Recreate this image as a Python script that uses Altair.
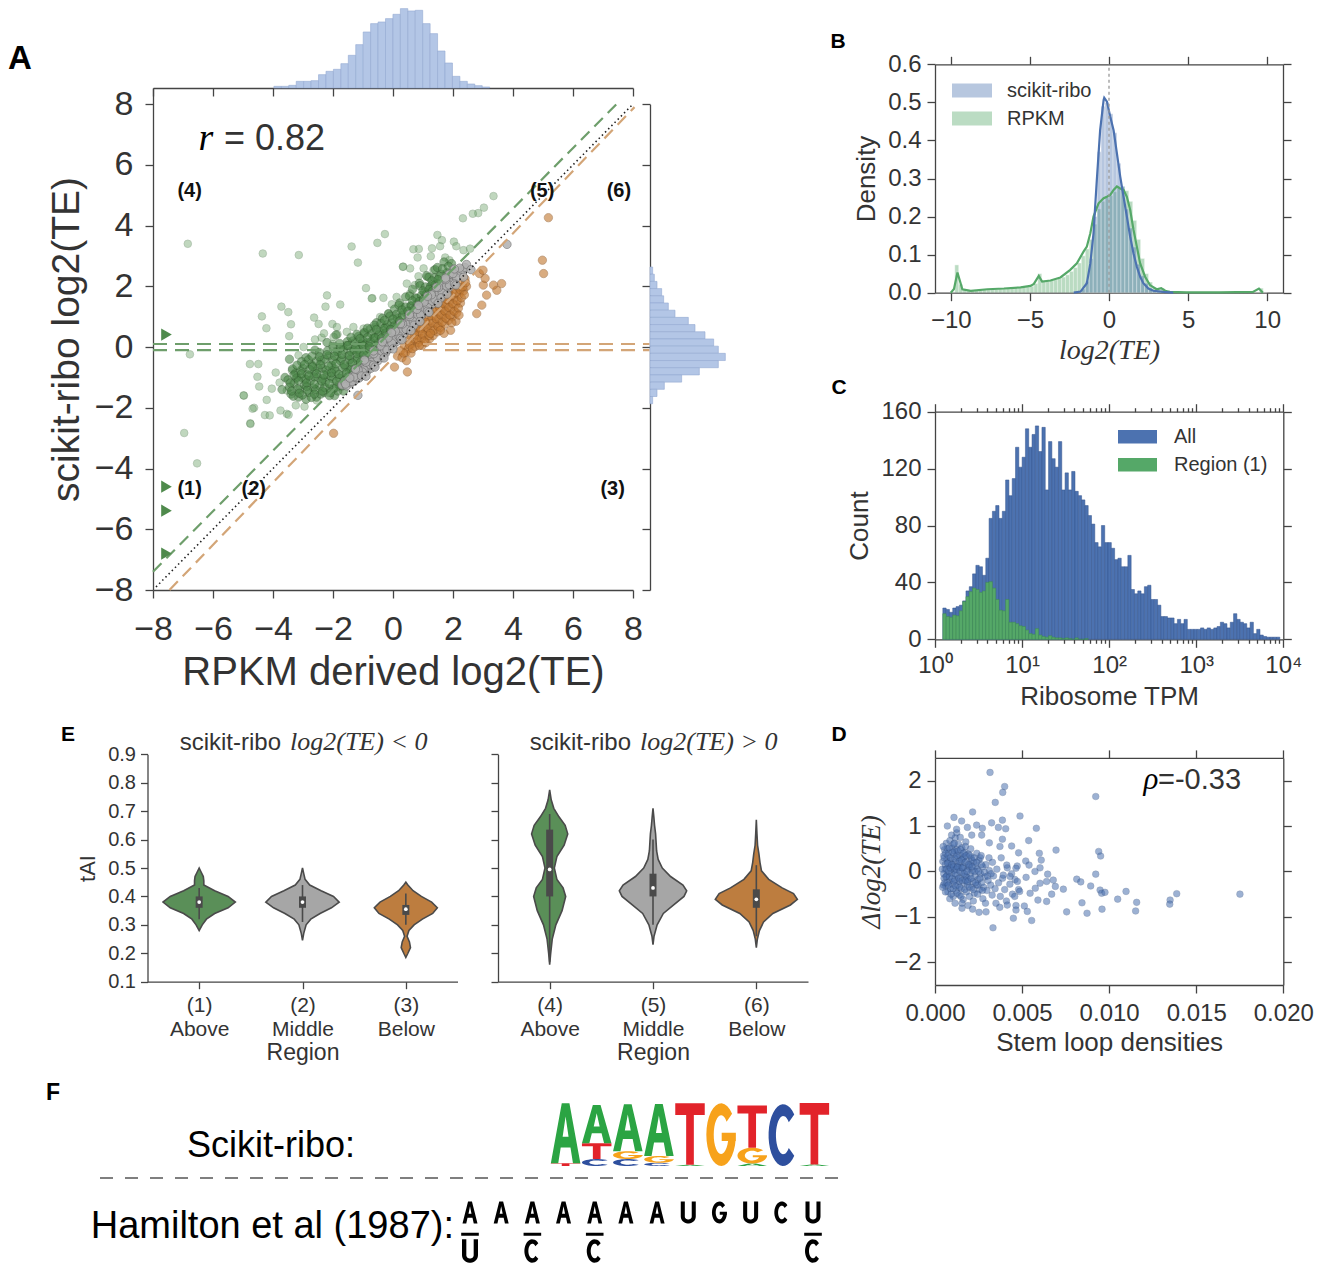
import altair as alt
import numpy as np
import pandas as pd

# ======================= DATA =======================
# ---- Panel A : marginal histograms (bar heights) ----
A_top_start, A_top_width = -3.97, 0.248
A_top_h = [5, 5, 8, 20, 20, 22, 40, 50, 56, 73, 98, 130, 168, 193, 198, 208, 221, 238, 231, 233,
           193, 163, 111, 75, 35, 20, 12, 7, 3]
A_right_top, A_right_width = 2.64, 0.237   # bins listed from the top downwards
A_right_h = [8, 13, 21, 35, 41, 55, 75, 115, 135, 165, 191, 205, 226, 205, 148, 95, 43, 21, 8]

# ---- Panel A : scatter (RPKM log2TE, scikit-ribo log2TE) ----
green_sparse = [(-6.84, 3.40), (-4.34, 3.08), (-3.14, 3.03), (-1.38, 3.31), (-1.17, 2.78), (-0.52, 3.43),
                (-0.27, 3.72), (0.34, 2.65), (-0.90, 1.94), (-0.69, 1.61), (-0.32, 1.62), (-2.20, 1.70),
                (-2.25, 1.33), (-1.76, 1.40), (-3.72, 1.33), (-3.49, 1.15), (-4.37, 1.01), (-4.22, 0.62),
                (-3.40, 0.75), (-3.46, 0.36), (-2.63, 0.97), (-2.48, 0.76), (-2.02, 0.76), (-2.38, 0.31),
                (-1.85, 0.42), (-6.77, -0.24), (-4.77, -0.56), (-4.49, -0.56), (-4.52, -0.98), (-4.46, -1.30),
                (-4.97, -1.60), (-4.63, -2.0), (-4.76, -2.51), (-4.21, -1.74), (-3.91, -0.84), (-3.78, -1.17),
                (-4.04, -1.37), (-4.27, -2.24), (-3.75, -2.09), (-3.54, -2.20), (-3.24, -1.92), (-2.95, -1.96),
                (-3.54, -1.43), (-3.37, -0.77), (-2.98, 0.0), (-3.15, -0.27), (-2.76, -0.55), (-2.54, -1.76),
                (-3.2, -0.99), (3.35, 4.97), (3.03, 4.59), (2.84, 4.41), (2.66, 4.39), (2.33, 4.24),
                (1.48, 3.69), (1.63, 3.52), (1.57, 3.32), (2.03, 3.47), (2.11, 3.32), (2.35, 3.19),
                (2.57, 3.24), (1.30, 3.25), (0.86, 3.23), (0.68, 3.22), (0.82, 2.95), (1.26, 2.99),
                (1.74, 2.95), (1.88, 2.86), (0.33, 2.64), (0.57, 2.59), (1.02, 2.59), (1.35, 2.53),
                (0.85, 2.33), (1.13, 2.31), (0.46, 2.09), (-0.71, 1.60), (-0.04, 1.41), (0.12, 1.65),
                (0.29, 1.32), (0.57, 1.76), (0.73, 2.04), (-0.43, 0.99), (-0.15, 1.10), (0.12, 0.99),
                (-0.59, 0.66), (-0.98, 0.61), (-1.32, 0.66), (-1.54, 0.50), (-1.87, 0.66), (-1.98, 0.33),
                (-0.64, 0.33), (-0.32, 0.55), (-1.04, 0.11), (-1.65, 0.0), (-1.32, -0.11), (-1.87, -0.33),
                (-2.04, -0.77), (-6.96, -2.83), (-6.53, -3.83), (-4.98, -1.59), (-4.75, -2.53),
                (-4.68, -2.03), (-4.11, -2.25), (-3.48, -2.23), (-2.6, 0.25), (-2.3, 0.45), (-2.0, 0.10)]
green_dense = [(-3.40, -1.55), (-3.30, -1.20), (-3.25, -0.85), (-3.15, -1.65), (-3.10, -1.40), (-3.05, -1.00),
               (-3.00, -0.70), (-2.95, -1.25), (-2.90, -1.72), (-2.85, -0.90), (-2.80, -1.50), (-2.75, -1.10),
               (-2.70, -0.60), (-2.65, -1.35), (-2.60, -0.80), (-2.55, -1.65), (-2.50, -1.00), (-2.45, -1.28),
               (-2.40, -0.45), (-2.35, -0.70), (-2.30, -1.50), (-2.25, -1.15), (-2.20, -0.90), (-2.15, -0.30),
               (-2.10, -1.38), (-2.05, -0.60), (-2.00, -1.05), (-1.95, -1.60), (-1.90, -0.80), (-1.85, -0.15),
               (-1.80, -1.25), (-1.75, -0.45), (-1.70, -0.95), (-1.65, -1.45), (-1.60, -0.65), (-1.55, 0.05),
               (-1.50, -0.30), (-1.45, -0.82), (-1.40, -0.55), (-1.35, 0.20), (-1.30, -0.10), (-1.25, -0.70),
               (-1.20, -0.40), (-1.15, 0.35), (-1.10, -0.18), (-1.05, 0.10), (-1.00, -0.55), (-0.95, 0.45),
               (-0.90, -0.28), (-0.85, 0.15), (-0.80, -0.05), (-0.75, 0.60), (-0.70, -0.30), (-0.65, 0.30),
               (-0.60, 0.05), (-0.55, 0.80), (-0.50, -0.10), (-0.45, 0.50), (-0.40, 0.20), (-0.35, 0.95),
               (-0.30, 0.05), (-0.25, 0.65), (-0.20, 0.35), (-0.15, 1.10), (-0.10, 0.25), (-0.05, 0.80),
               (0.00, 0.50), (0.05, 1.25), (0.10, 0.65), (0.15, 0.95), (0.22, 1.45), (0.28, 0.80),
               (0.35, 1.15), (0.42, 1.65), (0.50, 1.00), (0.58, 1.35), (0.65, 1.90), (0.72, 1.20),
               (0.80, 1.60), (0.88, 2.10), (0.95, 1.45), (1.05, 1.80), (1.12, 2.35), (1.20, 1.75),
               (1.30, 2.05), (1.40, 2.55), (1.50, 2.10), (1.60, 2.40), (1.70, 2.80), (1.80, 2.45),
               (1.95, 2.75), (-3.45, -0.40), (-3.60, -1.00), (-3.70, -1.40), (-2.90, -0.35), (-2.60, -0.10),
               (-2.20, 0.15), (-1.90, 0.40),
               (-3.32, -1.62), (-3.02, -1.58), (-2.72, -1.66), (-2.41, -1.55), (-2.12, -1.60), (-1.84, -1.45),
               (-3.45, -1.32), (-3.18, -1.38), (-2.88, -1.30), (-2.58, -1.40), (-2.28, -1.33), (-1.98, -1.36),
               (-1.70, -1.28), (-3.50, -1.08), (-3.22, -1.02), (-2.92, -1.06), (-2.63, -0.98), (-2.34, -1.04),
               (-2.06, -0.97), (-1.78, -1.03), (-1.50, -0.98), (-3.35, -0.72), (-3.08, -0.78), (-2.78, -0.74),
               (-2.50, -0.70), (-2.22, -0.76), (-1.95, -0.72), (-1.67, -0.68), (-1.40, -0.74), (-1.15, -0.66),
               (-3.05, -0.48), (-2.82, -0.42), (-2.55, -0.46), (-2.28, -0.40), (-2.00, -0.44), (-1.72, -0.38),
               (-1.45, -0.42), (-1.18, -0.36), (-0.92, -0.44), (-2.45, -0.18), (-2.18, -0.12), (-1.92, -0.16),
               (-1.66, -0.10), (-1.40, -0.14), (-1.14, -0.08), (-0.88, -0.12), (-0.64, -0.18), (-1.78, 0.12),
               (-1.52, 0.18), (-1.26, 0.14), (-1.00, 0.20), (-0.74, 0.16), (-0.50, 0.12), (-0.30, 0.18),
               (-1.20, 0.42), (-0.96, 0.48), (-0.72, 0.44), (-0.48, 0.40), (-0.25, 0.46), (-0.62, 0.72),
               (-0.40, 0.78), (-0.18, 0.74), (0.04, 0.70), (-0.10, 1.02), (0.12, 1.08), (0.32, 1.04),
               (0.20, 1.38), (0.42, 1.32), (0.62, 1.36), (0.80, 1.42), (0.55, 1.68), (0.75, 1.62),
               (0.95, 1.70), (1.10, 1.72), (0.90, 2.02), (1.08, 1.98), (1.25, 2.00), (1.40, 2.05),
               (1.20, 2.30), (1.38, 2.28), (1.55, 2.32), (1.48, 2.62), (1.65, 2.58), (1.85, 2.66),
               (-3.38, -1.45), (-3.12, -1.52), (-2.85, -1.42), (-2.62, -1.55), (-2.35, -1.45), (-2.08, -1.50),
               (-1.88, -1.32), (-3.42, -1.18), (-3.15, -1.10), (-2.88, -1.18), (-2.62, -1.22), (-2.38, -1.12),
               (-2.12, -1.20), (-1.88, -1.12), (-1.62, -1.10), (-3.30, -0.92), (-3.05, -0.88), (-2.80, -0.95),
               (-2.55, -0.88), (-2.30, -0.92), (-2.05, -0.85), (-1.80, -0.90), (-1.55, -0.85), (-1.32, -0.82),
               (-3.20, -0.60), (-2.95, -0.58), (-2.68, -0.65), (-2.42, -0.58), (-2.15, -0.62), (-1.90, -0.55),
               (-1.62, -0.58), (-1.35, -0.52), (-1.08, -0.50), (-2.70, -0.30), (-2.45, -0.32), (-2.20, -0.25),
               (-1.95, -0.30), (-1.70, -0.24), (-1.45, -0.28), (-1.20, -0.22), (-0.98, -0.25), (-2.00, 0.02),
               (-1.75, -0.02), (-1.50, 0.05), (-1.25, 0.00), (-1.00, 0.05), (-0.78, 0.02), (-1.40, 0.32),
               (-1.10, 0.28), (-0.85, 0.32), (-0.60, 0.30), (-0.38, 0.30), (-0.85, 0.62), (-0.55, 0.58),
               (-0.30, 0.62), (-0.08, 0.58), (-0.28, 0.88), (0.00, 0.92), (0.22, 0.86), (0.30, 1.22),
               (0.50, 1.18), (0.70, 1.22), (0.65, 1.52), (0.88, 1.50), (1.02, 1.58), (1.00, 1.85),
               (1.20, 1.90), (1.32, 1.85), (1.30, 2.18), (1.50, 2.22)]
grey_pts = [(-1.70, -1.25), (-1.62, -1.15), (-1.55, -1.28), (-1.48, -1.05), (-1.40, -1.18), (-1.33, -0.95),
            (-1.27, -1.10), (-1.20, -0.85), (-1.13, -1.02), (-1.05, -0.72), (-1.00, -0.92), (-0.93, -0.62),
            (-0.87, -0.80), (-0.80, -0.50), (-0.74, -0.70), (-0.68, -0.38), (-0.62, -0.58), (-0.55, -0.25),
            (-0.50, -0.45), (-0.43, -0.12), (-0.37, -0.33), (-0.30, 0.02), (-0.25, -0.20), (-0.18, 0.15),
            (-0.12, -0.06), (-0.05, 0.28), (0.00, 0.06), (0.07, 0.40), (0.12, 0.18), (0.19, 0.52),
            (0.24, 0.30), (0.31, 0.65), (0.36, 0.42), (0.43, 0.78), (0.48, 0.55), (0.55, 0.90),
            (0.60, 0.67), (0.67, 1.02), (0.72, 0.80), (0.79, 1.15), (0.84, 0.92), (0.91, 1.28),
            (0.96, 1.05), (1.03, 1.40), (1.08, 1.17), (1.15, 1.52), (1.20, 1.30), (1.27, 1.65),
            (1.32, 1.42), (1.39, 1.78), (1.44, 1.55), (1.51, 1.90), (1.56, 1.68), (1.63, 2.02),
            (1.70, 1.82), (1.78, 2.15), (1.85, 1.95), (1.95, 2.30), (2.05, 2.15), (2.15, 2.45),
            (2.30, 2.55), (2.40, 2.62), (2.02, 2.55), (1.88, 2.40), (-1.36, -1.14), (-1.10, -0.88),
            (-0.85, -0.63), (-0.60, -0.38), (-0.35, -0.13), (-0.10, 0.12), (0.15, 0.37), (0.40, 0.62),
            (0.65, 0.87), (0.90, 1.12), (1.15, 1.37), (1.40, 1.62), (1.65, 1.87), (1.90, 2.12),
            (-1.23, -1.01), (-0.97, -0.75), (-0.72, -0.50), (-0.47, -0.25), (-0.22, 0.0), (0.03, 0.25),
            (0.28, 0.50), (0.53, 0.75), (0.78, 1.00), (1.03, 1.25), (1.28, 1.50), (1.53, 1.75),
            (1.78, 2.0), (-1.17, -1.59), (3.80, 3.38), (2.45, 2.72), (2.60, 2.55),
            (-1.58, -1.22), (-1.30, -0.98), (-1.02, -0.82), (-0.76, -0.58), (-0.52, -0.36), (-0.28, -0.10),
            (-0.04, 0.13), (0.20, 0.36), (0.44, 0.58), (0.68, 0.84), (0.92, 1.06), (1.16, 1.30),
            (1.40, 1.56), (1.64, 1.78), (1.88, 2.04), (2.12, 2.28), (-1.44, -1.02), (-1.16, -0.76),
            (-0.90, -0.50), (-0.64, -0.22), (-0.40, 0.04), (-0.16, 0.30), (0.08, 0.52), (0.32, 0.76),
            (0.56, 1.00), (0.80, 1.24), (1.04, 1.48), (1.28, 1.72), (1.52, 1.96), (1.76, 2.22),
            (2.00, 2.42), (2.22, 2.60), (-0.20, -0.10), (0.25, 0.28), (0.70, 0.72), (1.15, 1.18),
            (1.60, 1.62), (2.05, 2.08), (-0.65, -0.60), (-1.05, -0.95),
            (-1.25, -0.73), (-0.95, -0.43), (-0.65, -0.13), (-0.35, 0.17), (-0.05, 0.47), (0.25, 0.77),
            (0.55, 1.07), (0.85, 1.37), (1.15, 1.67), (1.45, 1.97), (1.75, 2.27), (2.05, 2.57),
            (-0.90, -0.96), (-0.60, -0.66), (-0.30, -0.36), (0.00, -0.06), (0.30, 0.24), (0.60, 0.54),
            (0.90, 0.84), (1.20, 1.14), (1.50, 1.44), (1.80, 1.74), (2.10, 2.04), (2.35, 2.30)]
orange_pts = [(0.15, -0.30), (0.25, -0.12), (0.30, -0.35), (0.38, 0.05), (0.42, -0.18), (0.50, 0.22),
              (0.52, -0.05), (0.58, 0.38), (0.62, 0.10), (0.68, 0.52), (0.70, 0.25), (0.74, 0.02),
              (0.78, 0.65), (0.80, 0.38), (0.85, 0.15), (0.88, 0.78), (0.90, 0.50), (0.95, 0.28),
              (0.97, 0.05), (1.00, 0.88), (1.02, 0.62), (1.06, 0.38), (1.10, 0.15), (1.12, 1.00),
              (1.14, 0.75), (1.18, 0.50), (1.22, 0.27), (1.25, 1.12), (1.27, 0.88), (1.30, 0.62),
              (1.34, 0.38), (1.38, 1.25), (1.40, 1.00), (1.43, 0.75), (1.47, 0.50), (1.50, 1.38),
              (1.52, 1.12), (1.55, 0.88), (1.58, 0.64), (1.62, 1.50), (1.65, 1.25), (1.68, 1.00),
              (1.72, 0.75), (1.75, 1.62), (1.78, 1.38), (1.80, 1.12), (1.85, 0.88), (1.88, 1.75),
              (1.90, 1.50), (1.94, 1.25), (1.98, 1.00), (2.02, 1.85), (2.05, 1.62), (2.08, 1.38),
              (2.12, 1.12), (2.18, 1.95), (2.20, 1.72), (2.25, 1.45), (2.30, 2.10), (2.35, 1.85),
              (1.92, 0.55), (2.10, 0.85), (1.70, 0.45), (0.60, -0.20), (0.45, -0.45), (2.40, 2.25),
              (2.45, 2.0), (5.18, 4.26), (4.98, 2.86), (5.02, 2.42), (0.48, -0.82), (0.05, -0.66),
              (3.62, 2.09), (3.46, 1.87), (3.12, 1.71), (2.96, 1.38), (2.79, 1.10), (3.35, 2.04),
              (3.01, 2.04), (3.07, 2.26), (2.88, 2.42), (3.0, 2.53), (-1.98, -2.84),
              (0.35, -0.20), (0.55, 0.08), (0.65, -0.05), (0.72, 0.40), (0.82, 0.25), (0.92, 0.62),
              (0.98, 0.42), (1.04, 0.20), (1.08, 0.82), (1.16, 0.62), (1.20, 0.38), (1.28, 1.02),
              (1.32, 0.78), (1.36, 0.55), (1.42, 1.18), (1.45, 0.92), (1.50, 0.68), (1.56, 1.30),
              (1.60, 1.05), (1.64, 0.82), (1.70, 1.42), (1.73, 1.18), (1.77, 0.95), (1.82, 1.55),
              (1.86, 1.30), (1.90, 1.05), (1.96, 1.68), (2.00, 1.42), (2.04, 1.18), (2.10, 1.78),
              (2.14, 1.52), (2.18, 1.28), (2.24, 1.88), (2.28, 1.62), (2.33, 1.98), (2.38, 1.72),
              (2.42, 2.12), (1.96, 0.80), (2.20, 1.05), (1.58, 0.55), (1.25, 0.45), (0.88, 0.05)]
clipped_y = [0.41, -4.6, -5.39, -6.80]          # out-of-range genes drawn as triangles at the left edge
clipped_x = -7.55
green_diag = ([-8.0, 7.45], [-7.4, 8.0])
orange_diag = ([-7.45, 8.05], [-8.0, 7.9])
identity = ([-7.9, 8.0], [-7.9, 8.0])
green_h = ([-8.0, -0.5], [0.1, -0.1])
orange_h = ([1.0, 8.55], [0.1, -0.1])
region_labels = [("(4)", -6.78, 5.14), ("(5)", 4.97, 5.14), ("(6)", 7.53, 5.14),
                 ("(1)", -6.78, -4.66), ("(2)", -4.64, -4.66), ("(3)", 7.32, -4.66)]

# ---- Panel B : density histograms + KDE ----
B_width = 0.25
B_blue_start = -2.0
B_blue_h = [0.003, 0.01, 0.03, 0.09, 0.2, 0.37, 0.49, 0.50, 0.47, 0.42, 0.34, 0.28, 0.22, 0.17, 0.12,
            0.075, 0.045, 0.025, 0.012, 0.006, 0.003, 0.004]
B_green_start = -10.0
B_green_h = [0.0, 0.073, 0.022, 0.008, 0.006, 0.006, 0.007, 0.007, 0.008, 0.008, 0.009, 0.009, 0.010,
             0.010, 0.011, 0.011, 0.012, 0.013, 0.014, 0.015, 0.017, 0.024, 0.050, 0.030, 0.030, 0.032,
             0.034, 0.037, 0.041, 0.047, 0.056, 0.066, 0.078, 0.097, 0.115, 0.140, 0.180, 0.220, 0.240,
             0.250, 0.255, 0.265, 0.275, 0.278, 0.268, 0.240, 0.190, 0.140, 0.090, 0.050, 0.028, 0.014,
             0.009, 0.012, 0.004, 0.002] + [0.001] * 22 + [0.012, 0.0]
B_blue_kx = [-2.23, -1.8, -1.4, -1.18, -0.98, -0.77, -0.56, -0.34, -0.30, -0.13, 0.08, 0.29, 0.50, 0.71,
             0.92, 1.13, 1.34, 1.55, 1.76, 1.97, 2.17, 2.49, 2.8, 3.43, 4.06]
B_blue_ky = [0, 0.003, 0.025, 0.077, 0.156, 0.296, 0.427, 0.506, 0.512, 0.502, 0.462, 0.427, 0.366, 0.305,
             0.252, 0.2, 0.147, 0.103, 0.068, 0.042, 0.025, 0.011, 0.005, 0.002, 0]
B_green_kx = [-10.0, -9.8, -9.58, -9.27, -8.74, -7.69, -6.64, -5.59, -4.96, -4.75, -4.44, -4.23, -3.7, -3.07,
              -2.45, -2.03, -1.61, -1.40, -1.18, -0.98, -0.66, -0.34, -0.13, 0.08, 0.29, 0.5, 0.71, 0.92,
              1.13, 1.34, 1.55, 1.76, 1.97, 2.28, 2.59, 3.01, 3.3, 3.6, 3.85, 4.9, 7.0, 9.1, 9.48, 9.73]
B_green_ky = [0, 0.01, 0.053, 0.009, 0.005, 0.009, 0.011, 0.014, 0.018, 0.023, 0.044, 0.029, 0.032, 0.04,
              0.06, 0.077, 0.108, 0.121, 0.156, 0.2, 0.235, 0.248, 0.252, 0.257, 0.27, 0.279, 0.274, 0.27,
              0.252, 0.217, 0.165, 0.121, 0.077, 0.042, 0.02, 0.009, 0.012, 0.004, 0.002, 0.001, 0.001,
              0.002, 0.011, 0]

# ---- Panel C : Ribosome TPM histogram (log10 bins) ----
C_lo, C_hi = 0.09, 3.96
C_all = [22, 21, 19, 22, 23, 24, 27, 34, 37, 46, 52, 51, 45, 57, 85, 90, 94, 85, 90, 112,
         101, 113, 135, 121, 128, 148, 135, 144, 150, 132, 149, 105, 139, 127, 121, 139, 105, 117, 105, 118,
         104, 101, 98, 94, 87, 81, 68, 65, 80, 68, 68, 64, 56, 57, 51, 51, 59, 35, 32, 34,
         32, 37, 38, 28, 28, 24, 16, 16, 15, 15, 11, 14, 11, 14, 7, 7, 7, 7, 8, 7,
         8, 7, 8, 9, 12, 11, 8, 12, 18, 14, 12, 11, 8, 12, 4, 7, 3, 2, 1.5, 1.5, 1.5, 1.5]
C_region1 = [18, 16, 15.5, 17, 16.5, 20, 26.5, 30, 33.5, 36, 35, 33, 34, 40, 40.5, 36, 28, 20.5, 20, 28,
             12, 12, 11, 9.5, 9, 6.5, 4, 3.5, 7.5, 3, 2, 1.5, 2.5, 1.5, 1, 1, 0.5, 1, 0.5, 0, 1, 0, 0, 0.5]

# ---- Panel D : stem loop densities (x in units of 1e-3) vs delta log2(TE) ----
D_sparse = [(3.16, 2.18), (4.0, 1.87), (3.89, 1.74), (3.46, 1.52), (9.23, 1.65), (2.16, 1.31), (1.09, 1.19),
            (1.53, 1.11), (4.88, 1.22), (5.82, 0.95), (0.71, 1.0), (2.39, 1.02), (3.25, 1.07), (3.87, 1.13),
            (2.72, 0.95), (1.86, 0.97), (3.64, 0.97), (4.06, 0.94), (1.24, 0.93), (2.11, 0.80), (2.68, 0.80),
            (3.87, 0.71), (5.38, 0.68), (3.12, 0.63), (3.73, 0.55), (4.4, 0.56), (6.95, 0.47), (4.8, 0.41),
            (9.4, 0.44), (9.51, 0.34), (5.99, 0.40), (6.1, 0.25), (5.21, 0.23), (5.4, 0.14), (6.03, 0.08),
            (9.23, -0.06), (6.47, -0.06), (8.14, -0.17), (8.37, -0.23), (8.94, -0.32), (9.48, -0.41),
            (9.57, -0.48), (9.76, -0.46), (10.97, -0.44), (10.49, -0.61), (11.58, -0.68), (11.52, -0.87),
            (13.5, -0.63), (13.48, -0.72), (13.88, -0.49), (17.51, -0.50), (8.44, -0.69), (7.56, -0.89),
            (8.73, -0.92), (9.59, -0.83), (7.37, -0.39), (6.91, -0.33), (6.7, -0.50), (6.41, -0.66),
            (5.91, -0.63), (5.55, -1.08), (4.5, -1.03), (3.33, -1.24), (5.13, -0.76), (5.3, -0.88),
            (4.65, -0.85), (4.58, -0.55), (4.86, -0.44), (5.76, -0.37), (5.46, -0.48), (1.55, -0.81),
            (2.53, -0.90), (2.93, -0.89), (2.16, -0.83), (3.72, -0.79), (4.15, -0.74), (4.73, -0.22),
            (5.23, -0.13), (4.31, -0.11), (3.92, -0.08), (4.12, 0.14), (4.65, 0.07), (6.41, -0.22),
            (6.03, -0.26), (6.79, -0.19), (5.74, 0.0)]
D_dense = [(0.45, 0.22), (0.52, -0.15), (0.55, 0.48), (0.58, 0.05), (0.62, -0.32), (0.65, 0.62), (0.68, 0.28),
           (0.71, -0.08), (0.74, -0.45), (0.78, 0.41), (0.80, 0.12), (0.83, -0.22), (0.86, 0.68), (0.88, -0.38),
           (0.91, 0.25), (0.94, -0.05), (0.97, 0.52), (1.00, -0.28), (1.02, 0.15), (1.05, -0.55), (1.08, 0.38),
           (1.10, 0.02), (1.13, -0.18), (1.16, 0.74), (1.18, 0.20), (1.21, -0.42), (1.24, 0.48), (1.26, -0.08),
           (1.29, 0.30), (1.32, -0.30), (1.35, 0.60), (1.37, 0.08), (1.40, -0.52), (1.43, 0.35), (1.46, -0.15),
           (1.48, 0.18), (1.51, -0.38), (1.54, 0.52), (1.57, -0.02), (1.60, 0.28), (1.62, -0.62), (1.65, 0.10),
           (1.68, -0.25), (1.71, 0.42), (1.74, -0.10), (1.77, 0.65), (1.80, -0.45), (1.83, 0.22), (1.86, -0.30),
           (1.89, 0.05), (1.92, 0.38), (1.95, -0.18), (1.98, -0.55), (2.01, 0.15), (2.04, -0.05), (2.08, 0.30),
           (2.11, -0.35), (2.14, 0.02), (2.18, -0.22), (2.22, 0.20), (2.26, -0.48), (2.30, -0.10), (2.34, 0.12),
           (2.38, -0.30), (2.42, 0.05), (2.47, -0.18), (2.52, 0.25), (2.57, -0.40), (2.62, -0.05), (2.68, -0.25),
           (2.74, 0.10), (2.80, -0.35), (2.86, -0.12), (2.92, 0.15), (2.98, -0.42), (3.05, -0.20), (3.12, 0.02),
           (3.20, -0.30), (3.28, -0.52), (3.36, -0.10), (3.45, -0.38), (3.55, 0.05), (3.65, -0.25), (3.75, -0.55),
           (3.88, -0.15), (4.00, -0.40), (4.15, 0.08), (4.30, -0.28), (4.45, -0.50), (4.60, -0.18), (4.72, 0.12),
           (4.80, -0.40), (0.50, 0.35), (0.60, -0.45), (0.70, 0.50), (0.85, -0.60), (0.95, 0.80), (1.05, 0.60),
           (1.15, -0.70), (1.25, 0.85), (1.45, 0.75), (1.55, -0.70), (1.75, 0.55), (1.90, -0.75), (2.05, 0.50),
           (2.20, -0.65), (2.40, 0.40), (2.60, 0.30), (2.75, -0.60), (2.90, -0.70), (3.10, 0.30), (3.30, 0.20),
           (3.50, -0.70), (3.80, 0.30), (4.10, -0.65), (4.40, -0.05), (4.65, -0.75), (0.48, -0.30), (0.66, -0.10),
           (0.76, 0.20), (0.92, 0.05), (1.12, 0.45), (1.28, 0.12), (1.38, -0.22), (1.52, 0.08), (1.66, 0.32),
           (1.82, -0.12), (1.96, 0.10), (2.12, 0.25), (2.28, 0.00), (2.46, -0.30), (2.66, 0.15), (2.84, -0.02),
           (3.02, -0.10), (3.22, -0.05),
           (0.42, 0.05), (0.44, -0.35), (0.47, 0.55), (0.50, -0.05), (0.53, 0.30), (0.56, -0.25), (0.59, 0.15),
           (0.61, 0.40), (0.63, -0.12), (0.66, 0.05), (0.69, -0.25), (0.72, 0.18), (0.75, 0.35), (0.77, -0.30),
           (0.79, 0.00), (0.82, 0.52), (0.84, -0.12), (0.87, 0.08), (0.89, 0.30), (0.93, -0.50), (0.96, 0.15),
           (0.99, -0.15), (1.01, 0.42), (1.04, -0.38), (1.07, 0.10), (1.09, -0.22), (1.11, 0.62), (1.14, 0.28),
           (1.17, -0.05), (1.19, -0.32), (1.22, 0.05), (1.25, 0.35), (1.27, -0.48), (1.30, 0.10), (1.33, 0.45),
           (1.36, -0.15), (1.39, 0.22), (1.42, -0.35), (1.44, 0.00), (1.47, 0.48), (1.49, -0.55), (1.53, 0.25),
           (1.56, -0.20), (1.59, 0.08), (1.63, 0.40), (1.67, -0.05), (1.70, -0.40), (1.73, 0.20), (1.76, -0.20),
           (1.79, 0.35), (1.84, 0.00), (1.88, -0.22), (1.93, 0.15), (1.97, -0.35), (2.02, 0.35), (2.07, -0.15),
           (2.13, 0.10), (2.19, -0.40), (2.25, 0.30), (2.32, -0.25), (2.39, 0.20), (2.45, -0.50), (2.51, 0.00),
           (2.58, -0.15), (2.65, 0.35), (2.72, -0.42)]

# ---- Panel E : violin profiles (tAI value, half width) and box statistics ----
violins = {
    0: ([0.28, 0.30, 0.32, 0.34, 0.36, 0.38, 0.40, 0.42, 0.44, 0.455, 0.47, 0.485, 0.50],
        [0, 0.03, 0.07, 0.15, 0.28, 0.35, 0.28, 0.15, 0.045, 0.045, 0.04, 0.02, 0]),
    1: ([0.245, 0.27, 0.30, 0.32, 0.34, 0.36, 0.38, 0.40, 0.42, 0.44, 0.46, 0.48, 0.50],
        [0, 0.012, 0.035, 0.08, 0.17, 0.28, 0.355, 0.30, 0.18, 0.07, 0.025, 0.012, 0]),
    2: ([0.185, 0.20, 0.22, 0.24, 0.26, 0.28, 0.30, 0.32, 0.34, 0.36, 0.38, 0.40, 0.42, 0.44, 0.45],
        [0, 0.02, 0.045, 0.035, 0.012, 0.03, 0.08, 0.16, 0.26, 0.305, 0.25, 0.15, 0.07, 0.02, 0]),
    3: ([0.16, 0.20, 0.25, 0.30, 0.35, 0.40, 0.43, 0.46, 0.50, 0.54, 0.58, 0.62, 0.65, 0.68, 0.71, 0.74, 0.775],
        [0, 0.01, 0.025, 0.06, 0.12, 0.155, 0.13, 0.07, 0.045, 0.07, 0.14, 0.175, 0.15, 0.09, 0.04, 0.015, 0]),
    4: ([0.23, 0.26, 0.30, 0.34, 0.37, 0.40, 0.42, 0.44, 0.47, 0.50, 0.53, 0.56, 0.59, 0.62, 0.65, 0.68, 0.71],
        [0, 0.01, 0.04, 0.10, 0.20, 0.30, 0.326, 0.29, 0.17, 0.09, 0.05, 0.035, 0.03, 0.025, 0.015, 0.008, 0]),
    5: ([0.22, 0.25, 0.28, 0.31, 0.34, 0.37, 0.39, 0.41, 0.43, 0.46, 0.49, 0.52, 0.55, 0.58, 0.62, 0.67],
        [0, 0.01, 0.03, 0.07, 0.16, 0.33, 0.397, 0.36, 0.25, 0.12, 0.05, 0.035, 0.025, 0.012, 0.006, 0]),
}
box_stats = {  # q1, median, q3, whisker low, whisker high
    0: (0.36, 0.38, 0.40, 0.32, 0.43), 1: (0.36, 0.38, 0.40, 0.31, 0.44), 2: (0.335, 0.355, 0.37, 0.30, 0.41),
    3: (0.40, 0.495, 0.635, 0.17, 0.69), 4: (0.40, 0.43, 0.48, 0.30, 0.60), 5: (0.36, 0.39, 0.425, 0.26, 0.51)}
region_names = ["(1)|Above", "(2)|Middle", "(3)|Below", "(4)|Above", "(5)|Middle", "(6)|Below"]

# ---- Panel F : motif logo (letter, information in bits, stacked bottom -> top) ----
logo_stack = [[("T", 0.09), ("A", 1.90)],
              [("C", 0.22), ("T", 0.50), ("A", 1.22)],
              [("C", 0.22), ("G", 0.25), ("A", 1.49)],
              [("C", 0.10), ("G", 0.22), ("A", 1.65)],
              [("A", 0.04), ("T", 1.95)],
              [("G", 1.99)],
              [("A", 0.08), ("G", 0.50), ("T", 1.34)],
              [("C", 1.96)],
              [("A", 0.05), ("T", 1.95)]]
hamilton_top = list("AAAAAAAUGUCU")
hamilton_bottom = {0: "U", 2: "C", 4: "C", 11: "C"}

# ======================= STYLE / LAYOUT =======================
W, H = 1319, 1250
FONT, SERIF = "Liberation Sans", "Liberation Serif"
AX, TXT = "#444444", "#333333"
GREEN, GREY, ORANGE = "#5a8f58", "#a6a6a6", "#bd7d3f"
DEEPBLUE, DEEPGREEN = "#4c72b0", "#55a868"
LOGO_COL = {"A": "#2ba443", "T": "#e2232a", "G": "#f7a21b", "C": "#2e4f9e"}


def X(p):
    return p - 8


def Y(p):
    return p - 8


def ax(orient, offset, **kw):
    d = dict(orient=orient, offset=offset, grid=False, tickColor=AX, domainColor=AX, tickWidth=1.3,
             domainWidth=1.3, tickSize=8, labelColor=TXT, titleColor=TXT, labelFont=FONT, titleFont=FONT,
             labelFlush=False, labelOverlap=False, titleFontWeight="normal", labelPadding=6)
    d.update(kw)
    return alt.Axis(**d)


def axb(yp, **kw):
    return ax("bottom", -(H - Y(yp)), **kw)


def axt(yp, **kw):
    return ax("top", -Y(yp), **kw)


def axl(xp, **kw):
    return ax("left", -X(xp), **kw)


def axr(xp, **kw):
    return ax("right", -(W - X(xp)), **kw)


def sx(domain, p0, p1, **kw):
    return alt.Scale(domain=domain, range=[X(p0), X(p1)], nice=False, zero=False, **kw)


def sy(domain, pb, pt, **kw):
    return alt.Scale(domain=domain, range=[Y(pb), Y(pt)], nice=False, zero=False, **kw)


one = pd.DataFrame({"a": [0]})


def label(text, xp, yp, size=20, weight="bold", font=FONT, align="center", baseline="middle", style="normal",
          color="#000000"):
    return alt.Chart(one).mark_text(text=text, font=font, fontSize=size, fontWeight=weight, align=align,
                                    baseline=baseline, fontStyle=style, color=color).encode(
        x=alt.value(X(xp)), y=alt.value(Y(yp)))


# ======================= PANEL A =======================
xsA = sx([-8, 8], 153, 633)
ysA = sy([-8, 8.53], 590, 88)
ticksA = list(range(-8, 9, 2))


def scat(pairs, color, stroke, op, size=58, xa=None, ya=None):
    df = pd.DataFrame(pairs, columns=["x", "y"])
    return alt.Chart(df).mark_circle(size=size, color=color, opacity=op, stroke=stroke, strokeWidth=0.7).encode(
        x=alt.X("x:Q", scale=xsA, axis=xa), y=alt.Y("y:Q", scale=ysA, axis=ya))


def lineA(xy, color, dash, width=2.2):
    df = pd.DataFrame({"x": xy[0], "y": xy[1]})
    return alt.Chart(df).mark_line(color=color, strokeDash=dash, strokeWidth=width).encode(
        x=alt.X("x:Q", scale=xsA, axis=None), y=alt.Y("y:Q", scale=ysA, axis=None))


axA_x = axb(590, values=ticksA, format="d", title="RPKM derived log2(TE)", labelFontSize=34, titleFontSize=40,
            labelPadding=14, titlePadding=6)
axA_y = axl(153, values=ticksA, format="d", title="scikit-ribo log2(TE)", labelFontSize=34, titleFontSize=39,
            labelPadding=12, titlePadding=8)

reg_df = pd.DataFrame(region_labels, columns=["t", "x", "y"])
tri_df = pd.DataFrame({"x": [clipped_x] * len(clipped_y), "y": clipped_y})
gA = alt.layer(
    scat(green_sparse, "#74a871", "#3d6b3b", 0.45, 58, axA_x, axA_y),
    scat(green_dense, "#4a8647", "#2c562a", 0.6, 70),
    scat(orange_pts, "#c27a33", "#8a5220", 0.62, 70),
    scat(grey_pts, "#b0b0b0", "#6e6e6e", 0.85, 70),
    lineA(green_diag, "#6e9e6b", [12, 7]),
    lineA(orange_diag, "#d3a577", [12, 7]),
    lineA(identity, "#222222", [1.5, 3], 1.6),
    lineA((green_h[0], [green_h[1][0]] * 2), "#6e9e6b", [14, 8]),
    lineA((green_h[0], [green_h[1][1]] * 2), "#6e9e6b", [14, 8]),
    lineA((orange_h[0], [orange_h[1][0]] * 2), "#d3a577", [14, 8]),
    lineA((orange_h[0], [orange_h[1][1]] * 2), "#d3a577", [14, 8]),
    alt.Chart(tri_df).mark_point(shape="triangle-right", filled=True, size=150, color="#4f8a4c", opacity=1).encode(
        x=alt.X("x:Q", scale=xsA, axis=None), y=alt.Y("y:Q", scale=ysA, axis=None)),
    alt.Chart(reg_df).mark_text(font=FONT, fontSize=20, fontWeight="bold", color="#111111").encode(
        x=alt.X("x:Q", scale=xsA, axis=None), y=alt.Y("y:Q", scale=ysA, axis=None), text="t:N"),
).resolve_axis(x="independent", y="independent")

tm = pd.DataFrame({"x0": A_top_start + A_top_width * np.arange(len(A_top_h)), "h": A_top_h})
tm["x1"] = tm["x0"] + A_top_width
gTop = alt.Chart(tm).mark_rect(color="#b3c6e6", stroke="#93aad2", strokeWidth=0.6).encode(
    x=alt.X("x0:Q", scale=xsA, axis=axb(88, values=ticksA, labels=False, title=None)),
    x2="x1:Q", y=alt.Y("h:Q", scale=sy([0, 239], 88, 8.3), axis=None), y2=alt.datum(0))

rm = pd.DataFrame({"y1": A_right_top - A_right_width * np.arange(len(A_right_h)), "w": A_right_h})
rm["y0"] = rm["y1"] - A_right_width
gRight = alt.Chart(rm).mark_rect(color="#b3c6e6", stroke="#93aad2", strokeWidth=0.6).encode(
    y=alt.Y("y0:Q", scale=sy([-8, 8], 590, 104.3), axis=axl(650, values=ticksA, labels=False, title=None)),
    y2="y1:Q", x=alt.X("w:Q", scale=sx([0, 240], 650, 730), axis=None), x2=alt.datum(0))

r_text = alt.layer(label("r", 206, 150, size=38, weight="normal", font=SERIF, style="italic", baseline="alphabetic"),
                   label("= 0.82", 224, 150, size=36, weight="normal", align="left", baseline="alphabetic",
                         color=TXT))

# ======================= PANEL B =======================
xsB = sx([-11, 11], 935, 1283)
ysB = sy([0, 0.6], 292.7, 64.3)
bx = [-10, -5, 0, 5, 10]
by = [0, 0.1, 0.2, 0.3, 0.4, 0.5, 0.6]
dbg = pd.DataFrame({"x0": B_green_start + B_width * np.arange(len(B_green_h)), "h": B_green_h})
dbg["x1"] = dbg["x0"] + B_width
dbb = pd.DataFrame({"x0": B_blue_start + B_width * np.arange(len(B_blue_h)), "h": B_blue_h})
dbb["x1"] = dbb["x0"] + B_width


def barsB(df, color, xa=None, ya=None):
    return alt.Chart(df).mark_rect(color=color, opacity=0.4, stroke="white", strokeWidth=0.4).encode(
        x=alt.X("x0:Q", scale=xsB, axis=xa), x2="x1:Q", y=alt.Y("h:Q", scale=ysB, axis=ya), y2=alt.datum(0))


def kdeB(xs, ys, color):
    return alt.Chart(pd.DataFrame({"x": xs, "y": ys})).mark_line(color=color, strokeWidth=2.2).encode(
        x=alt.X("x:Q", scale=xsB, axis=None), y=alt.Y("y:Q", scale=ysB, axis=None))


gB = alt.layer(
    barsB(dbg, DEEPGREEN,
          axb(292.7, values=bx, format="d", title="log2(TE)", titleFont=SERIF, titleFontStyle="italic",
              labelFontSize=24, titleFontSize=28, labelPadding=8, titlePadding=4),
          axl(935, values=by, format=".1f", title="Density", labelFontSize=24, titleFontSize=26,
              labelPadding=6, titlePadding=8)),
    barsB(dbb, DEEPBLUE),
    kdeB(B_green_kx, B_green_ky, DEEPGREEN),
    kdeB(B_blue_kx, B_blue_ky, DEEPBLUE),
    alt.Chart(pd.DataFrame({"x": [0], "y0": [0], "y1": [0.6]})).mark_rule(color="#999999", strokeDash=[3, 3],
                                                                         strokeWidth=1.3).encode(
        x=alt.X("x:Q", scale=xsB, axis=None), y=alt.Y("y0:Q", scale=ysB, axis=None), y2="y1:Q"),
    alt.Chart(pd.DataFrame({"x": [0], "y": [0]})).mark_point(opacity=0).encode(
        x=alt.X("x:Q", scale=xsB, axis=axt(64.3, values=bx, labels=False, title=None)),
        y=alt.Y("y:Q", scale=ysB, axis=axr(1283, values=by, labels=False, title=None))),
).resolve_axis(x="independent", y="independent")


def legend_patch(x0, x1, y0, y1, color, op):
    return alt.Chart(one).mark_rect(color=color, opacity=op).encode(
        x=alt.value(X(x0)), x2=alt.value(X(x1)), y=alt.value(Y(y0)), y2=alt.value(Y(y1)))


legB = alt.layer(legend_patch(952, 992, 83.5, 97.5, DEEPBLUE, 0.4),
                 legend_patch(952, 992, 111.5, 125.5, DEEPGREEN, 0.4),
                 label("scikit-ribo", 1007, 91, size=20, weight="normal", align="left", color=TXT),
                 label("RPKM", 1007, 119, size=20, weight="normal", align="left", color=TXT))

# ======================= PANEL C =======================
xsC = sx([1, 10000], 935, 1283.3, type="log")
ysC = sy([0, 160], 639.3, 411.7)
bwC = (C_hi - C_lo) / len(C_all)
e = C_lo + bwC * np.arange(len(C_all) + 1)
dca = pd.DataFrame({"x0": 10 ** e[:-1], "x1": 10 ** e[1:], "h": C_all})
nreg = len(C_region1)
dcr = pd.DataFrame({"x0": 10 ** e[:nreg], "x1": 10 ** e[1:nreg + 1], "h": C_region1})
majC = [1, 10, 100, 1000, 10000]
minC = [m * 10 ** k for k in range(4) for m in range(2, 10)]
cy = [0, 40, 80, 120, 160]
supexpr = ("datum.value < 5 ? '10⁰' : datum.value < 50 ? '10¹' : datum.value < 500 ? '10²' : "
           "datum.value < 5000 ? '10³' : '10⁴'")


def carrierC(xa=None, ya=None):
    return alt.Chart(pd.DataFrame({"x": [10], "y": [0]})).mark_point(opacity=0).encode(
        x=alt.X("x:Q", scale=xsC, axis=xa), y=alt.Y("y:Q", scale=ysC, axis=ya))


gC = alt.layer(
    alt.Chart(dca).mark_rect(color=DEEPBLUE, stroke="#34558c", strokeWidth=0.5).encode(
        x=alt.X("x0:Q", scale=xsC, axis=axb(639.3, values=majC, labelExpr=supexpr, title="Ribosome TPM",
                                            labelFontSize=24, titleFontSize=26, labelPadding=6, titlePadding=6)),
        x2="x1:Q",
        y=alt.Y("h:Q", scale=ysC, axis=axl(935, values=cy, format="d", title="Count", labelFontSize=24,
                                          titleFontSize=26, labelPadding=6, titlePadding=8)),
        y2=alt.datum(0)),
    alt.Chart(dcr).mark_rect(color=DEEPGREEN, stroke="#3f8a52", strokeWidth=0.5).encode(
        x=alt.X("x0:Q", scale=xsC, axis=None), x2="x1:Q", y=alt.Y("h:Q", scale=ysC, axis=None),
        y2=alt.datum(0)),
    carrierC(axb(639.3, values=minC, labels=False, title=None, tickSize=4, domain=False)),
    carrierC(axt(411.7, values=majC, labels=False, title=None),
             axr(1283.3, values=cy, labels=False, title=None)),
    carrierC(axt(411.7, values=minC, labels=False, title=None, tickSize=4, domain=False)),
).resolve_axis(x="independent", y="independent")

legC = alt.layer(legend_patch(1118, 1157, 430, 443.5, DEEPBLUE, 1),
                 legend_patch(1118, 1157, 458, 471.5, DEEPGREEN, 1),
                 label("All", 1174, 437, size=20, weight="normal", align="left", color=TXT),
                 label("Region (1)", 1174, 465, size=20, weight="normal", align="left", color=TXT))

# ======================= PANEL D =======================
xsD = sx([0, 0.02], 935, 1283.3)
ysD = sy([-2.5, 2.5], 985, 757.9)
dx = [0, 0.005, 0.01, 0.015, 0.02]
dy = [-2, -1, 0, 1, 2]
ddf = pd.DataFrame(D_dense + D_sparse, columns=["x", "y"])
ddf["x"] = ddf["x"] / 1000.0
gD = alt.layer(
    alt.Chart(ddf).mark_circle(size=44, color=DEEPBLUE, opacity=0.55, stroke="#2a4677", strokeWidth=0.5).encode(
        x=alt.X("x:Q", scale=xsD, axis=axb(985, values=dx, format=".3f", title="Stem loop densities",
                                          labelFontSize=24, titleFontSize=26, labelPadding=8, titlePadding=4)),
        y=alt.Y("y:Q", scale=ysD, axis=axl(935, values=dy, format="d", title="Δlog2(TE)", titleFont=SERIF,
                                          titleFontStyle="italic", labelFontSize=24, titleFontSize=27,
                                          labelPadding=6, titlePadding=8))),
    alt.Chart(pd.DataFrame({"x": [0.01], "y": [0]})).mark_point(opacity=0).encode(
        x=alt.X("x:Q", scale=xsD, axis=axt(757.9, values=dx, labels=False, title=None)),
        y=alt.Y("y:Q", scale=ysD, axis=axr(1283.3, values=dy, labels=False, title=None))),
).resolve_axis(x="independent", y="independent")
rho = alt.layer(label("ρ", 1151, 789, size=31, weight="normal", font=SERIF, style="italic", baseline="alphabetic"),
                label("=-0.33", 1158, 789, size=29, weight="normal", align="left", baseline="alphabetic",
                      color=TXT))

# ======================= PANEL E =======================
ysE = sy([0.1, 0.9], 981.7, 754.3)
ey = [0.1, 0.2, 0.3, 0.4, 0.5, 0.6, 0.7, 0.8, 0.9]
vcol = [GREEN, GREY, ORANGE, GREEN, GREY, ORANGE]


def violin_group(ids, xs, left_labels):
    rows, boxes = [], []
    for j, vid in enumerate(ids):
        ts, ws = violins[vid]
        for t, w in zip(ts, ws):
            rows.append({"cat": j, "t": t, "l": j - w, "r": j + w, "c": vcol[vid]})
        q1, med, q3, lo, hi = box_stats[vid]
        boxes.append({"cat": j, "q1": q1, "med": med, "q3": q3, "lo": lo, "hi": hi})
    vd, bd = pd.DataFrame(rows), pd.DataFrame(boxes)
    names = [region_names[v].split("|") for v in ids]
    lexpr = ("datum.value == 0 ? ['%s','%s'] : datum.value == 1 ? ['%s','%s'] : ['%s','%s']"
             % (names[0][0], names[0][1], names[1][0], names[1][1], names[2][0], names[2][1]))
    xa = axb(981.7, values=[0, 1, 2], labelExpr=lexpr, title="Region", labelFontSize=21, titleFontSize=23,
             labelLineHeight=24, tickSize=7, labelPadding=6, titlePadding=2)
    if left_labels:
        ya = axl(xs[0], values=ey, format=".1f", title="tAI", labelFontSize=20, titleFontSize=22, tickSize=7,
                 labelPadding=5, titlePadding=8)
    else:
        ya = axl(xs[0], values=ey, labels=False, title=None, tickSize=7)
    xsc = sx([-0.5, 2.5], xs[0], xs[1])
    return alt.layer(
        alt.Chart(vd).mark_area(orient="horizontal", stroke="#4a4a4a", strokeWidth=1.6, opacity=1).encode(
            y=alt.Y("t:Q", scale=ysE, axis=ya), x=alt.X("l:Q", scale=xsc, axis=xa), x2="r:Q",
            color=alt.Color("c:N", scale=None), detail="cat:N"),
        alt.Chart(bd).mark_rule(color="#4a4a4a", strokeWidth=1.6).encode(
            x=alt.X("cat:Q", scale=xsc, axis=None), y=alt.Y("lo:Q", scale=ysE, axis=None), y2="hi:Q"),
        alt.Chart(bd).mark_rule(color="#4a4a4a", strokeWidth=7).encode(
            x=alt.X("cat:Q", scale=xsc, axis=None), y=alt.Y("q1:Q", scale=ysE, axis=None), y2="q3:Q"),
        alt.Chart(bd).mark_point(filled=True, color="white", size=14, opacity=1).encode(
            x=alt.X("cat:Q", scale=xsc, axis=None), y=alt.Y("med:Q", scale=ysE, axis=None)),
    ).resolve_axis(x="independent", y="independent")


gE1 = violin_group([0, 1, 2], (147.5, 457.5), True)
gE2 = violin_group([3, 4, 5], (498, 808), False)
etitles = alt.layer(
    label("scikit-ribo", 281, 750, size=24, weight="normal", align="right", baseline="alphabetic", color=TXT),
    label("log2(TE) < 0", 290, 750, size=26, weight="normal", font=SERIF, style="italic", align="left",
          baseline="alphabetic", color=TXT),
    label("scikit-ribo", 631, 750, size=24, weight="normal", align="right", baseline="alphabetic", color=TXT),
    label("log2(TE) > 0", 640, 750, size=26, weight="normal", font=SERIF, style="italic", align="left",
          baseline="alphabetic", color=TXT))


# ======================= PANEL F =======================
def ell(cx, cy, rx, ry, a0, a1, n=28):
    t = np.radians(np.linspace(a0, a1, n))
    return [(cx + rx * np.cos(a), cy - ry * np.sin(a)) for a in t]


def orient(poly, positive=True):
    s = sum(poly[i][0] * poly[(i + 1) % len(poly)][1] - poly[(i + 1) % len(poly)][0] * poly[i][1]
            for i in range(len(poly)))
    return poly if (s > 0) == positive else poly[::-1]


GLYPHS = {
    "A": [orient([(0, 1), (0.37, 0), (0.63, 0), (1, 1), (0.75, 1), (0.665, 0.74), (0.335, 0.74), (0.25, 1)]),
          orient([(0.40, 0.56), (0.60, 0.56), (0.5, 0.22)], False)],
    "T": [orient([(0, 0), (1, 0), (1, 0.19), (0.63, 0.19), (0.63, 1), (0.37, 1), (0.37, 0.19), (0, 0.19)])],
    "C": [orient(ell(.5, .5, .5, .5, 42, 318) + ell(.5, .5, .25, .31, 318, 42))],
    "G": [orient(ell(.5, .5, .5, .5, 42, 352) + ell(.5, .5, .25, .31, 352, 42)),
          orient([(0.52, 0.47), (1.0, 0.47), (1.0, 0.6), (0.52, 0.6)]),
          orient([(0.76, 0.47), (1.0, 0.47), (1.0, 0.55), (0.95, 0.7), (0.88, 0.8), (0.76, 0.88)])],
    "U": [orient([(0, 0), (0.27, 0), (0.27, 0.68)]
                 + [(0.5 - 0.23 * np.cos(p), 0.68 + 0.14 * np.sin(p)) for p in np.linspace(0, np.pi, 14)]
                 + [(0.73, 0), (1, 0), (1, 0.68)]
                 + [(0.5 + 0.5 * np.cos(p), 0.68 + 0.32 * np.sin(p)) for p in np.linspace(0, np.pi, 18)])],
}


def glyph_path(letter, w, h, bar=False):
    polys = GLYPHS[letter]
    if bar:
        polys = [[(u, 0.22 + 0.78 * v) for u, v in p] for p in polys] + \
                [orient([(-0.05, 0), (1.05, 0), (1.05, 0.1), (-0.05, 0.1)])]
    m = max(w, h)
    hw, hh = w / m, h / m
    out = []
    for p in polys:
        pts = [(-hw + 2 * hw * u, -hh + 2 * hh * v) for u, v in p]
        out.append("M" + "L".join("%.3f,%.3f" % q for q in pts) + "Z")
    return "".join(out), m * m


PX_PER_BIT = (1166 - 1103) / 2.0
COL_W = 29.5
logo_rows = []
for ci, stack in enumerate(logo_stack):
    base = 0.0
    for letter, bits in stack:
        path, size = glyph_path(letter, COL_W, bits * PX_PER_BIT)
        logo_rows.append({"col": ci, "yc": base + bits / 2, "path": path, "size": size, "c": LOGO_COL[letter]})
        base += bits
logo_df = pd.DataFrame(logo_rows)
gLogo = alt.Chart(logo_df).mark_point(filled=True, opacity=1, strokeWidth=0).encode(
    x=alt.X("col:Q", scale=sx([0, 8], 565.6, 814.4), axis=None),
    y=alt.Y("yc:Q", scale=sy([0, 2], 1166, 1103), axis=None),
    shape=alt.Shape("path:N", scale=None), size=alt.Size("size:Q", scale=None),
    color=alt.Color("c:N", scale=None))

ham_rows = []
for i, letter in enumerate(hamilton_top):
    p, s = glyph_path(letter, 15, 22)
    ham_rows.append({"i": i, "row": 0, "path": p, "size": s})
for i, letter in hamilton_bottom.items():
    p, s = glyph_path(letter, 16, 30, bar=True)
    ham_rows.append({"i": i, "row": 1, "path": p, "size": s})
gHam = alt.Chart(pd.DataFrame(ham_rows)).mark_point(filled=True, opacity=1, strokeWidth=0, color="#000000").encode(
    x=alt.X("i:Q", scale=sx([0, 11], 470, 813), axis=None),
    y=alt.Y("row:Q", scale=sy([0, 1], 1212.5, 1247.7), axis=None),
    shape=alt.Shape("path:N", scale=None), size=alt.Size("size:Q", scale=None))

ftext = alt.layer(
    label("Scikit-ribo:", 271, 1157, size=36, weight="normal", baseline="alphabetic"),
    label("Hamilton et al (1987):", 454, 1238, size=38, weight="normal", align="right", baseline="alphabetic"),
    alt.Chart(one).mark_rule(color="#555555", strokeWidth=1.5, strokeDash=[13, 12]).encode(
        x=alt.value(X(100)), x2=alt.value(X(843)), y=alt.value(Y(1178))),
)

letters = alt.layer(label("A", 20, 59, size=33), label("B", 838, 42, size=21), label("C", 839, 388, size=21),
                    label("D", 839, 735, size=21), label("E", 68, 735, size=21), label("F", 53, 1093, size=23))

chart = alt.layer(
    gA, gTop, gRight, r_text, gB, legB, gC, legC, gD, rho, gE1, gE2, etitles, gLogo, gHam, ftext, letters
).resolve_scale(
    x="independent", y="independent", color="independent", shape="independent", size="independent"
).resolve_axis(x="independent", y="independent").properties(
    width=W, height=H, padding=0
).configure_view(stroke=None)

chart.save("out.html", embed_options={"renderer": "svg", "actions": False})
